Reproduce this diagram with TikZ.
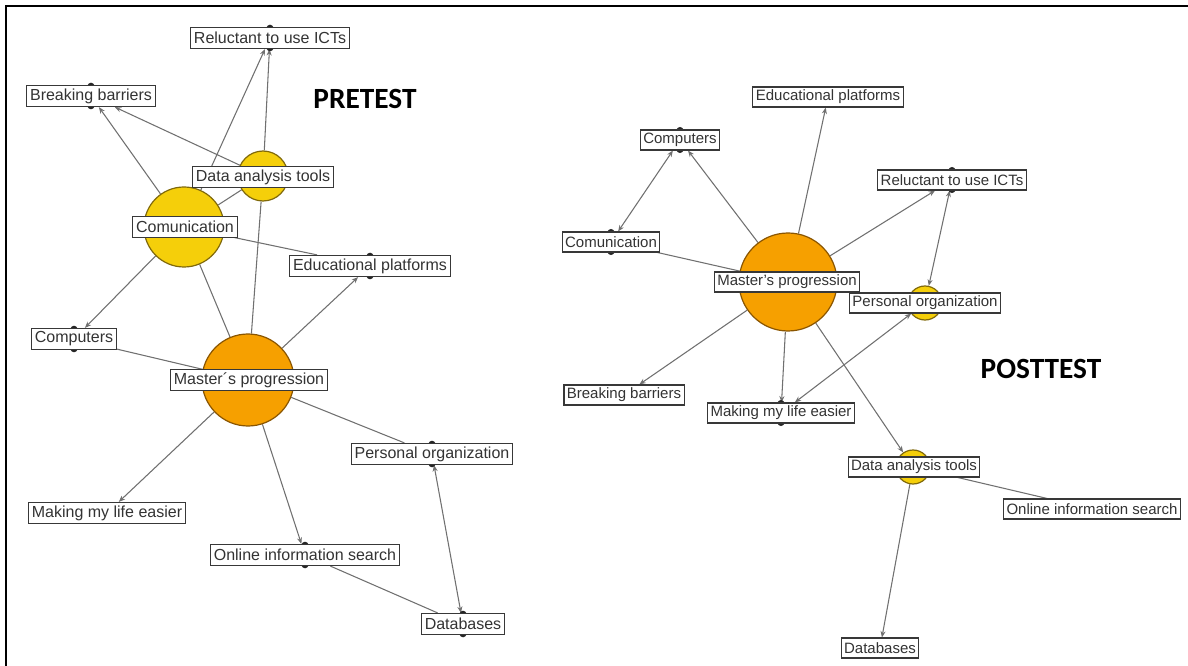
\documentclass[tikz,border=0pt]{standalone}
\usepackage{fontspec}
\setmainfont{Liberation Sans}
\newfontfamily\titlefont{Carlito}
\usetikzlibrary{arrows.meta,backgrounds}

\definecolor{edgegray}{HTML}{707070}
\definecolor{boxline}{HTML}{383838}
\definecolor{labeltext}{HTML}{333333}
\definecolor{hubfill}{HTML}{F6A000}
\definecolor{hubline}{HTML}{8A5500}
\definecolor{subfill}{HTML}{F5CF0A}
\definecolor{subline}{HTML}{80690A}
\definecolor{dotcolor}{HTML}{262626}

\begin{document}
\begin{tikzpicture}[x=0.75pt,y=-0.75pt,
  lab/.style={draw=boxline, line width=0.9pt, fill=white, text=labeltext,
    inner xsep=2.4pt, inner ysep=0pt, minimum height=15.75pt,
    font=\fontsize{12}{14}\selectfont},
  labR/.style={lab, minimum height=15pt, inner xsep=2.2pt, line width=0.8pt,
    font=\fontsize{11.25}{13}\selectfont},
  hub/.style={circle, draw=hubline, fill=hubfill, line width=0.9pt, inner sep=0pt},
  sub/.style={circle, draw=subline, fill=subfill, line width=0.9pt, inner sep=0pt},
  link/.style={draw=edgegray, line width=0.8pt},
  arr/.style={link, -{Stealth[length=4.8pt,width=3.8pt]}},
  biarr/.style={link, {Stealth[length=4.8pt,width=3.8pt]}-{Stealth[length=4.8pt,width=3.8pt]}},
  heading/.style={font=\titlefont\bfseries\fontsize{22}{24}\selectfont, text=black, inner sep=0pt},
  nodedot/.style={fill=dotcolor}
]
\useasboundingbox (0,0) rectangle (1188,666);

% frame lines on the left and top
\draw[line width=1.5pt, black] (5.5,666) -- (5.5,6) -- (1188,6);

% ---------------- PRETEST network ----------------
\node[heading] (pre) at (365,99) {PRETEST};

\node[sub, minimum size=60pt]   (LComC) at (184,227) {};
\node[sub, minimum size=37.5pt] (LDatC) at (263,176) {};
\node[hub, minimum size=69pt]   (LMasC) at (248,380) {};

% small node symbols peeking out above and below the labels
\foreach \p in {(270,38),(91,96),(370,266),(74,339),(432,454),(305,555),(463,624)}
  \fill[nodedot] \p ellipse [x radius=4.5pt, y radius=10pt];

\node[lab] (LRel) at (270,38)  {Reluctant to use ICTs};
\node[lab] (LBrk) at (91,96)   {Breaking barriers};
\node[lab] (LDat) at (263,177) {Data analysis tools};
\node[lab] (LCom) at (185,227) {Comunication};
\node[lab] (LEdu) at (370,266) {Educational platforms};
\node[lab] (LCmp) at (74,339)  {Computers};
\node[lab] (LMas) at (249,380) {Master´s progression};
\node[lab] (LPer) at (432,454) {Personal organization};
\node[lab] (LMak) at (107,513) {Making my life easier};
\node[lab] (LOnl) at (305,555) {Online information search};
\node[lab] (LDb)  at (463,624) {Databases};

\begin{scope}[on background layer]
  \draw[arr]   (LComC) -- (LBrk);
  \draw[arr]   (LDatC) -- (LBrk);
  \draw[arr]   (LComC) -- (LRel);
  \draw[arr]   (LDatC) -- (LRel);
  \draw[link]  (LComC) -- (LDatC);
  \draw[link]  (LDatC) -- (LMasC);
  \draw[link]  (LComC) -- (LEdu);
  \draw[arr]   (LComC) -- (LCmp);
  \draw[link]  (LComC) -- (LMasC);
  \draw[arr]   (LMasC) -- (LEdu);
  \draw[link]  (LCmp)  -- (LMasC);
  \draw[arr]   (LMasC) -- (LMak);
  \draw[arr]   (LMasC) -- (LOnl);
  \draw[link]  (LMasC) -- (LPer);
  \draw[biarr] (LPer)  -- (LDb);
  \draw[link]  (LOnl)  -- (LDb);
\end{scope}

% ---------------- POSTTEST network ----------------
\node[heading] (post) at (1041,369) {POSTTEST};

\node[hub, minimum size=73.5pt] (RMasC) at (788,282) {};
\node[sub, minimum size=25.5pt] (RPerC) at (925,303) {};
\node[sub, minimum size=25.5pt] (RDatC) at (913,467) {};

\foreach \p in {(680,140),(611,242),(952,180),(781,413)}
  \fill[nodedot] \p ellipse [x radius=4.5pt, y radius=9.8pt];

\node[labR] (REdu) at (828,97)   {Educational platforms};
\node[labR] (RCmp) at (680,140)  {Computers};
\node[labR] (RRel) at (952,180)  {Reluctant to use ICTs};
\node[labR] (RCom) at (611,242)  {Comunication};
\node[labR] (RMas) at (787,282)  {Master's progression};
\node[labR] (RPer) at (925,303)  {Personal organization};
\node[labR] (RBrk) at (624,395)  {Breaking barriers};
\node[labR] (RMak) at (781,413)  {Making my life easier};
\node[labR] (RDat) at (914,467)  {Data analysis tools};
\node[labR] (ROnl) at (1092,509) {Online information search};
\node[labR] (RDb)  at (880,648)  {Databases};

\begin{scope}[on background layer]
  \draw[biarr] (RCmp)  -- (RCom);
  \draw[arr]   (RMasC) -- (RCmp);
  \draw[arr]   (RMasC) -- (REdu);
  \draw[arr]   (RMasC) -- (RRel);
  \draw[biarr] (RRel)  -- (RPerC);
  \draw[link]  (RCom)  -- (RMasC);
  \draw[arr]   (RMasC) -- (RBrk);
  \draw[arr]   (RMasC) -- (RMak);
  \draw[biarr] (RPer)  -- (RMak);
  \draw[arr]   (RMasC) -- (RDatC);
  \draw[arr]   (RDatC) -- (RDb);
  \draw[link]  (RDatC) -- (ROnl);
\end{scope}
\end{tikzpicture}
\end{document}
